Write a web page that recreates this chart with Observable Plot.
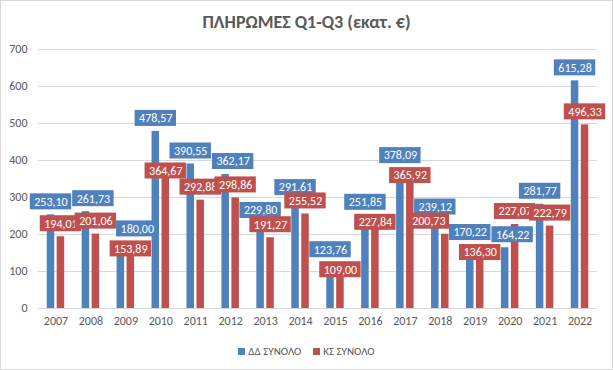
<!DOCTYPE html>
<html><head><meta charset="utf-8">
<script src="https://cdn.jsdelivr.net/npm/d3@7"></script>
<script src="https://cdn.jsdelivr.net/npm/@observablehq/plot@0.6"></script>
<style>
body{margin:0;background:#fff;}
#wrap{width:613px;height:370px;box-sizing:border-box;border:1px solid #d9d9d9;background:#fff;overflow:hidden;
  font-family:Carlito,"Liberation Sans Narrow","Open Sans",sans-serif;}
#title{height:35px;box-sizing:border-box;padding-top:10px;line-height:22px;text-align:center;font-weight:bold;font-size:18px;color:#595959;}
#chart svg{display:block;}
#legend{height:32px;display:flex;justify-content:center;align-items:center;gap:12px;font-size:11px;color:#595959;padding-bottom:2px;box-sizing:border-box;}
#legend .item{display:flex;align-items:center;gap:3px;}
#legend .sw{width:7px;height:7px;display:inline-block;}
</style></head><body>
<div id="wrap"><div id="title">ΠΛΗΡΩΜΕΣ Q1-Q3 (εκατ. €)</div><div id="chart"></div><div id="legend"></div></div>
<script>
const years = [2007,2008,2009,2010,2011,2012,2013,2014,2015,2016,2017,2018,2019,2020,2021,2022];
const seriesNames = ["ΔΔ ΣΥΝΟΛΟ","ΚΣ ΣΥΝΟΛΟ"];
const seriesColors = ["#4F81BD","#C0504D"];
const ddValues = [253.10,261.73,180.00,478.57,390.55,362.17,229.80,291.61,123.76,251.85,378.09,239.12,170.22,164.22,281.77,615.28];
const ksValues = [194.01,201.06,153.89,364.67,292.88,298.86,191.27,255.52,109.00,227.84,365.92,200.73,136.30,227.07,222.79,496.33];
const ddLabels = ["253,10","261,73","180,00","478,57","390,55","362,17","229,80","291.61","123,76","251,85","378,09","239,12","170,22","164,22","281,77","615,28"];
const ksLabels = ["194,01","201,06","153,89","364,67","292,88","298,86","191,27","255,52","109,00","227,84","365,92","200,73","136,30","227,07","222,79","496,33"];
const yTicks = [0,100,200,300,400,500,600,700];

const FONT = 'Carlito,"Liberation Sans Narrow","Open Sans",sans-serif';
const W = 611, H = 300, mL = 37, mR = 15, mT = 13, mB = 28;
const xDomain = [years[0] - 0.5, years[years.length - 1] + 0.5];
// bar geometry within each year (in year units)
const outer = 0.25, inner = 0.035;

const dd = years.map((y,i)=>({year:y, value:ddValues[i], label:ddLabels[i]}));
const ks = years.map((y,i)=>({year:y, value:ksValues[i], label:ksLabels[i]}));

// scales identical to the plot's, used to place the data labels (Excel-like overlap avoidance)
const xs = Plot.scale({x: {type: "linear", domain: xDomain, range: [mL, W - mR]}});
const ys = Plot.scale({y: {type: "linear", domain: [0, 700], range: [H - mB, mT]}});

const ctx = document.createElement("canvas").getContext("2d");
ctx.font = "12px " + FONT;
const pad = 4, boxH = 16, lift = 13, pushDist = 20, collideDy = 13;
const mk = (d, side) => ({
  d, side,
  cx: xs.apply(side === 0 ? d.year - (outer + inner) / 2 : d.year + (outer + inner) / 2),
  cy: ys.apply(d.value) - lift,
  w: ctx.measureText(d.label).width + 2 * pad
});
const blues = dd.map(d => mk(d, 0));
const reds = ks.map(d => mk(d, 1));
const xOv = (a, b) => Math.min(a.cx + a.w/2, b.cx + b.w/2) - Math.max(a.cx - a.w/2, b.cx - b.w/2);
const hits = (a, b) => xOv(a, b) > 0 && Math.abs(a.cy - b.cy) < collideDy;

// neighbouring labels of the first series: nudge the later one right
for (let i = 1; i < blues.length; i++) {
  if (hits(blues[i], blues[i - 1])) blues[i].cx += xOv(blues[i], blues[i - 1]) + 1;
}
// second-series labels: push down, or nudge sideways, whichever moves less
for (let i = 0; i < reds.length; i++) {
  const r = reds[i];
  for (const j of [i, i + 1]) {
    if (j >= blues.length) continue;
    const b = blues[j];
    if (!hits(r, b)) continue;
    if (j === i) { r.cy = Math.max(r.cy, b.cy + pushDist); continue; }
    const pushAmt = b.cy + pushDist - r.cy;
    const ov = xOv(r, b);
    const movedB = {...b, cx: b.cx + ov};
    const nb = blues[j + 1];
    const shiftOk = !(nb && hits(movedB, nb));
    const movedR = {...r, cx: r.cx - ov};
    const leftOk = !hits(movedR, blues[i]);
    if (pushAmt <= ov || (!shiftOk && !leftOk)) r.cy = b.cy + pushDist;
    else if (shiftOk) b.cx += ov;
    else r.cx -= ov;
  }
}

const labelMarks = [];
[blues, reds].forEach((arr, si) => {
  arr.forEach(l => {
    const box = [{
      x1: xs.invert(l.cx - l.w/2), x2: xs.invert(l.cx + l.w/2),
      y1: ys.invert(l.cy + boxH/2), y2: ys.invert(l.cy - boxH/2),
      lx: xs.invert(l.cx), ly: ys.invert(l.cy), text: l.d.label
    }];
    labelMarks.push(Plot.rect(box, {x1: "x1", x2: "x2", y1: "y1", y2: "y2", fill: seriesColors[si]}));
    labelMarks.push(Plot.text(box, {x: "lx", y: "ly", text: "text", fill: "white", fontSize: 12}));
  });
});

const chart = Plot.plot({
  width: W, height: H,
  marginLeft: mL, marginRight: mR, marginTop: mT, marginBottom: mB,
  style: {fontFamily: FONT, fontSize: "12px", color: "#595959", background: "#fff"},
  x: {type: "linear", domain: xDomain, ticks: years, tickFormat: d => String(d), label: null, tickSize: 0, tickPadding: 8},
  y: {domain: [0, 700], ticks: yTicks, label: null, tickSize: 0, tickPadding: 11},
  marks: [
    Plot.gridY(yTicks, {stroke: "#d9d9d9", strokeOpacity: 1}),
    Plot.rectY(dd, {x1: d => d.year - outer, x2: d => d.year - inner, y: "value", fill: seriesColors[0]}),
    Plot.rectY(ks, {x1: d => d.year + inner, x2: d => d.year + outer, y: "value", fill: seriesColors[1]}),
    ...labelMarks
  ]
});
document.getElementById("chart").appendChild(chart);

const legend = document.getElementById("legend");
seriesNames.forEach((n, i) => {
  const it = document.createElement("span");
  it.className = "item";
  const sw = document.createElement("span");
  sw.className = "sw"; sw.style.background = seriesColors[i];
  const tx = document.createElement("span"); tx.textContent = n;
  it.appendChild(sw); it.appendChild(tx);
  legend.appendChild(it);
});
</script>
</body></html>
